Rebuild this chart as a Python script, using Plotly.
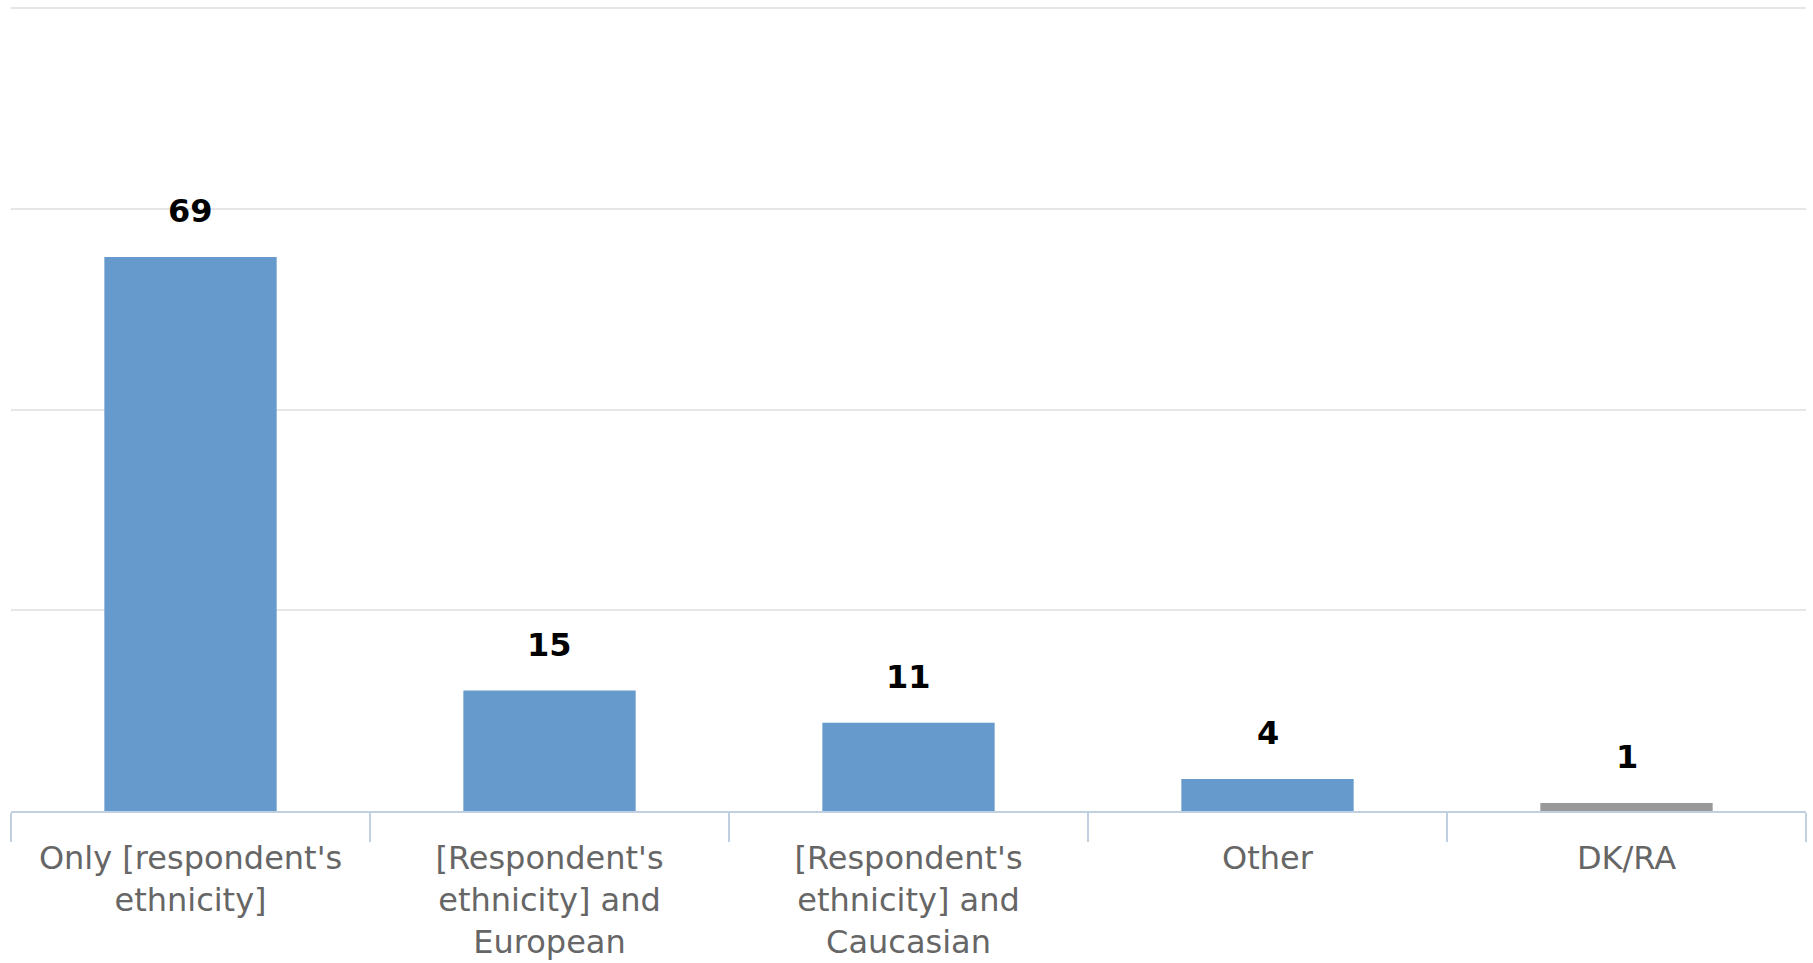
import plotly.graph_objects as go

categories = ["Only [respondent's<br>ethnicity]", "[Respondent's<br>ethnicity] and<br>European",
              "[Respondent's<br>ethnicity] and<br>Caucasian", "Other", "DK/RA"]
values = [69, 15, 11, 4, 1]
colors = ["#6699cc", "#6699cc", "#6699cc", "#6699cc", "#999999"]

fig = go.Figure()
fig.add_trace(go.Bar(x=categories, y=values, marker=dict(color=colors, line=dict(width=0)),
                     hoverinfo="skip"))

for c, v in zip(categories, values):
    fig.add_annotation(x=c, y=v, text=f"<b>{v}</b>", showarrow=False, yanchor="bottom", yshift=25,
                       font=dict(family="DejaVu Sans", size=32, color="#000000"))

fig.update_layout(
    width=1813, height=963,
    margin=dict(l=11, r=7, t=5, b=152),
    paper_bgcolor="white", plot_bgcolor="white",
    showlegend=False, bargap=0.52,
    xaxis=dict(type="category", tickson="boundaries", ticks="outside", ticklen=29, tickwidth=2,
               tickcolor="#c0d0e0", showline=True, linecolor="#c0d0e0", linewidth=2, showgrid=False,
               ticklabelstandoff=18, automargin=False,
               tickfont=dict(family="DejaVu Sans", size=32, color="#666666")),
    yaxis=dict(range=[0, 100.4], dtick=25, showticklabels=False, showgrid=True, gridcolor="#e6e6e6",
               gridwidth=2, zeroline=False, showline=False, automargin=False),
)

fig.write_html("out.html")
